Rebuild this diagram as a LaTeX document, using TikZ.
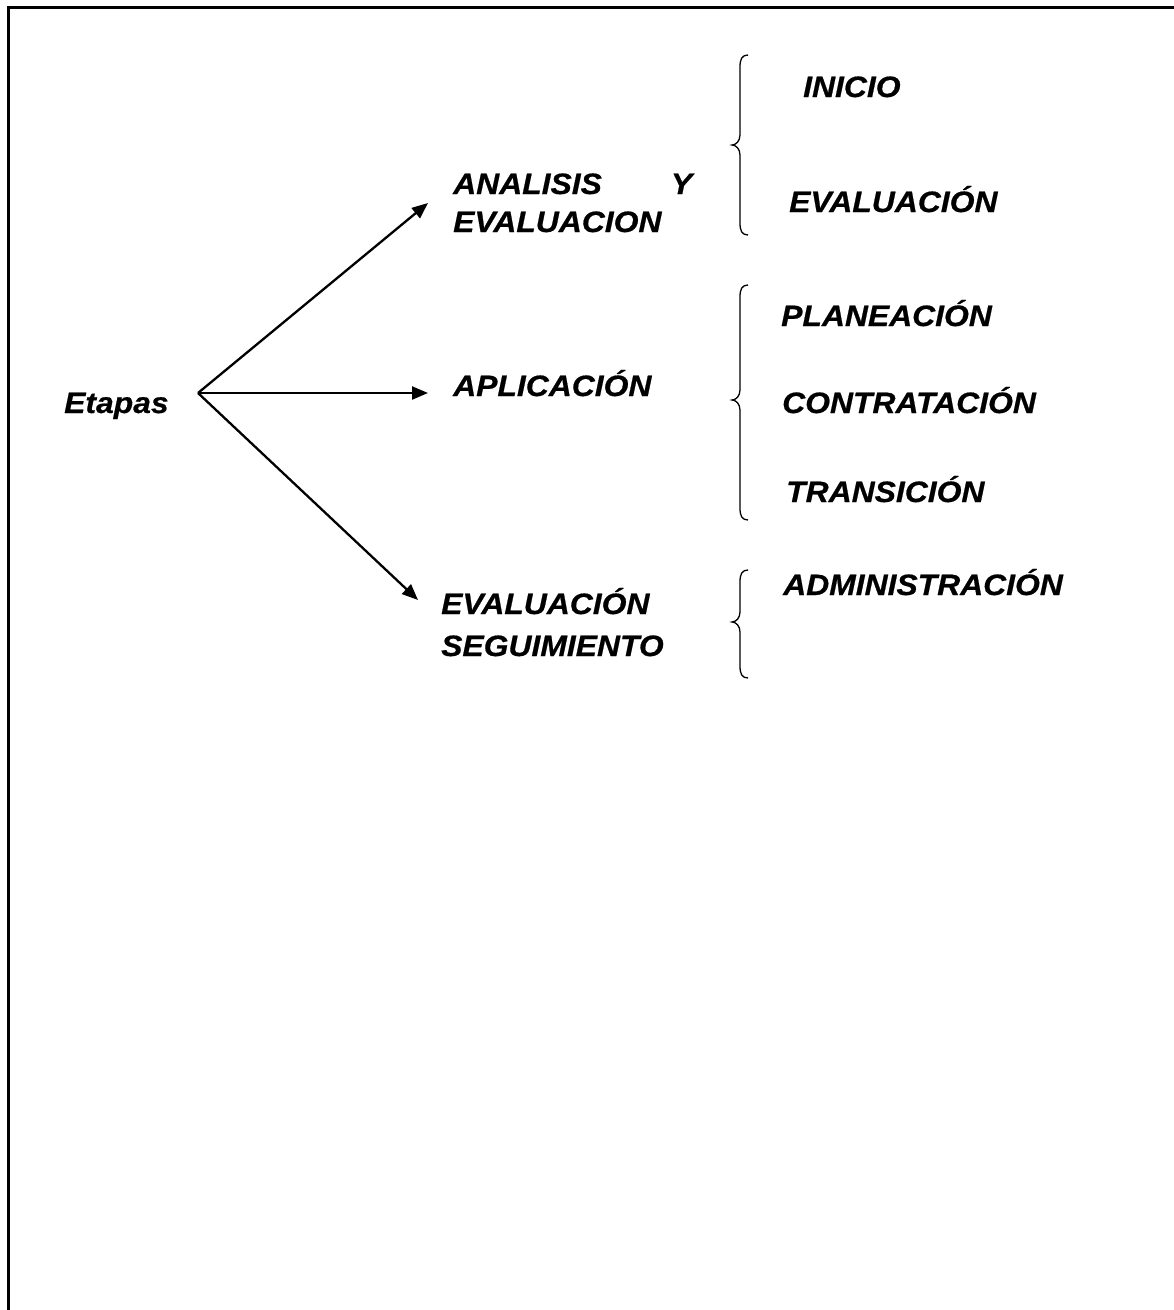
\documentclass[tikz,border=0pt]{standalone}
\usepackage{graphicx}
\usepackage{fontspec}
\setmainfont{Liberation Sans}[FakeBold=0.6]
\usetikzlibrary{arrows.meta}
\newcommand\wtxt[1]{\scalebox{1.08}[1]{#1}}
\begin{document}
\begin{tikzpicture}[x=1pt,y=-1pt,
  lab/.style={anchor=base west,inner sep=0pt,font=\fontsize{29.5pt}{34pt}\selectfont\bfseries\itshape},
  arr/.style={line width=2.3pt,-{Triangle[length=16pt,width=13pt]}},
  brace/.style={line width=1.3pt},
  frame/.style={line width=3pt}]
\useasboundingbox (0,0) rectangle (1174,1310);
\draw[frame] (8,1310) -- (8,7) -- (1174,7);
% labels
\node[lab] (etapas) at (64,413) {\wtxt{Etapas}};
\node[lab] (ana1) at (453,194) {\hbox to 239pt{\wtxt{ANALISIS}\hfill\wtxt{Y}}};
\node[lab] (ana2) at (453,232) {\wtxt{EVALUACION}};
\node[lab] (apl) at (453,396) {\wtxt{APLICACIÓN}};
\node[lab] (eva1) at (441,614) {\wtxt{EVALUACIÓN}};
\node[lab] (eva2) at (441,656) {\wtxt{SEGUIMIENTO}};
\node[lab] (ini) at (803,97) {\wtxt{INICIO}};
\node[lab] (evr) at (789,212) {\wtxt{EVALUACIÓN}};
\node[lab] (pla) at (781,326) {\wtxt{PLANEACIÓN}};
\node[lab] (con) at (782,413) {\wtxt{CONTRATACIÓN}};
\node[lab] (tra) at (786,502) {\wtxt{TRANSICIÓN}};
\node[lab] (adm) at (783,595) {\wtxt{ADMINISTRACIÓN}};
% arrows
\coordinate (hub) at (198,393);
\coordinate (e1) at (428,203);
\coordinate (e2) at (428,393);
\coordinate (e3) at (418,600);
\draw[arr] (hub) -- (e1);
\draw[arr] (hub) -- (e2);
\draw[arr] (hub) -- (e3);
% braces
\draw[brace] (748,55) .. controls (742,55) and (740,59) .. (740,67) -- (740,135) .. controls (740,141) and (736,145) .. (732,145) .. controls (736,145) and (740,149) .. (740,155) -- (740,223) .. controls (740,231) and (742,235) .. (748,235);
\draw[brace] (748,285) .. controls (742,285) and (740,289) .. (740,297) -- (740,390) .. controls (740,396) and (736,400) .. (732,400) .. controls (736,400) and (740,404) .. (740,410) -- (740,508) .. controls (740,516) and (742,520) .. (748,520);
\draw[brace] (748,570) .. controls (742,570) and (740,574) .. (740,582) -- (740,612) .. controls (740,618) and (736,622) .. (732,622) .. controls (736,622) and (740,626) .. (740,632) -- (740,666) .. controls (740,674) and (742,678) .. (748,678);
\end{tikzpicture}
\end{document}
